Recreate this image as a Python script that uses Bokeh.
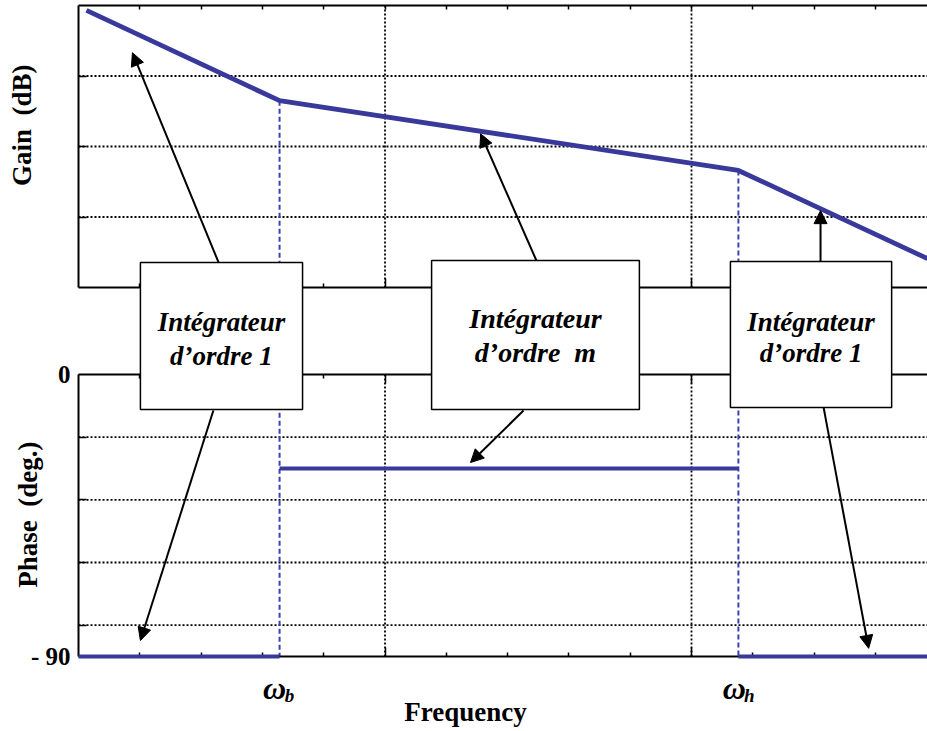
import math
from bokeh.plotting import figure
from bokeh.models import (Range1d, LinearAxis, FixedTicker, Arrow,
                          NormalHead, Label, ColumnDataSource)
from bokeh.core.properties import value
from bokeh.embed import file_html
from bokeh.resources import INLINE

# ---------------- data ----------------
omega_b = 0.656
omega_h = 2.153
gain_x = [0.026, omega_b, omega_h, 2.77]
gain_db = [3.93, 2.65, 1.66, 0.41]
phase_x0 = [0.0, omega_b, omega_h]
phase_x1 = [omega_b, omega_h, 2.77]
phase_deg = [-90, -30, -90]

x_major = [1, 2]
x_minor = [0.2, 0.4, 0.6, 0.8, 1.2, 1.4, 1.6, 1.8, 2.2, 2.4, 2.6]
gain_grid = [1, 2, 3]
gain_span = (0, 4)
phase_grid = [-80, -60, -40, -20]
phase_span = (-90, 0)
phase_ticks = [-90, 0]
phase_tick_labels = ["- 90", "0"]

box_left = [0.202, 1.152, 2.127]
box_right = [0.731, 1.830, 2.653]
box_top = [0.355, 0.383, 0.369]        # gain units
box_bottom = [-1.730, -1.730, -1.702]  # gain units
box_line1 = ["Intégrateur", "Intégrateur", "Intégrateur"]
box_line2 = ["d’ordre 1", "d’ordre\u00a0 m", "d’ordre 1"]
box_text_y1 = [-0.496, -0.440, -0.496]
box_text_y2 = [-0.965, -0.922, -0.922]
box_font = ["27px", "28px", "27px"]

gain_arrows = [  # (x_start, g_start, x_end, g_end)
    (0.457, 0.355, 0.176, 3.33),
    (1.494, 0.383, 1.312, 2.18),
    (2.421, 0.369, 2.421, 1.09),
]
phase_arrows = [  # (x_start, ph_start, x_end, ph_end)
    (0.440, -11.5, 0.202, -84.9),
    (1.452, -11.5, 1.279, -28.1),
    (2.431, -10.5, 2.578, -87.4),
]

# ---------------- layout (pixels) ----------------
W, H = 927, 729
LEFT = 78
GAIN_TOP_PX, GAIN_ZERO_PX = 5, 287
PHASE_ZERO_PX, PHASE_M90_PX = 374, 656
X_PX = 306.5

g_px = (GAIN_ZERO_PX - GAIN_TOP_PX) / 4.0
ph_px = (PHASE_M90_PX - PHASE_ZERO_PX) / 90.0
x_start = -LEFT / X_PX
x_end = (W - LEFT) / X_PX
gain_range = Range1d(-(H - GAIN_ZERO_PX) / g_px, GAIN_ZERO_PX / g_px)
phase_range = Range1d(-(H - PHASE_ZERO_PX) / ph_px, PHASE_ZERO_PX / ph_px)
m90_gain = -(PHASE_M90_PX - GAIN_ZERO_PX) / g_px

BLUE = "#38399a"
SERIF = "Liberation Serif"

p = figure(width=W, height=H, output_backend="svg", toolbar_location=None,
           x_range=Range1d(x_start, x_end), y_range=phase_range,
           x_axis_type=None, y_axis_type=None,
           min_border_left=0, min_border_right=0,
           min_border_top=0, min_border_bottom=0)
p.extra_y_ranges = {"gain": gain_range}
p.outline_line_color = None
p.background_fill_color = "white"
p.border_fill_color = "white"
p.xgrid.visible = False
p.ygrid.visible = False

# ---------------- dotted grid lines (inside each panel only) ----------------
DOT = dict(line_color="black", line_dash="2 2", line_width=1.8)
p.segment(x0=[0] * len(gain_grid), x1=[x_end] * len(gain_grid),
          y0=gain_grid, y1=gain_grid, y_range_name="gain", **DOT)
p.segment(x0=[0] * len(phase_grid), x1=[x_end] * len(phase_grid),
          y0=phase_grid, y1=phase_grid, **DOT)
p.segment(x0=x_major, x1=x_major, y0=[gain_span[0]] * 2, y1=[gain_span[1]] * 2,
          y_range_name="gain", **DOT)
p.segment(x0=x_major, x1=x_major, y0=[phase_span[0]] * 2, y1=[phase_span[1]] * 2,
          **DOT)

# ---------------- axes ----------------
def tick_axis(side, minor, tick_in, loc, yname="default", bounds="auto",
              line=True):
    ax = LinearAxis(ticker=FixedTicker(ticks=[], minor_ticks=minor),
                    y_range_name=yname, bounds=bounds, fixed_location=loc)
    ax.major_tick_in = 0
    ax.major_tick_out = 0
    ax.minor_tick_in = tick_in
    ax.minor_tick_out = 0
    ax.minor_tick_line_color = "black"
    ax.minor_tick_line_width = 1.5
    ax.major_label_standoff = 0
    ax.axis_line_width = 2
    ax.axis_line_color = "black" if line else None
    p.add_layout(ax, side)
    return ax

# phase left axis with the two labels
left_ax = LinearAxis(ticker=FixedTicker(ticks=phase_ticks, minor_ticks=phase_grid),
                     bounds=phase_span, fixed_location=0)
left_ax.major_label_overrides = {t: s for t, s in zip(phase_ticks, phase_tick_labels)}
left_ax.major_label_text_font = SERIF
left_ax.major_label_text_font_style = "bold"
left_ax.major_label_text_font_size = "25px"
left_ax.major_label_text_color = "black"
left_ax.major_label_standoff = 8
left_ax.major_tick_in = 0
left_ax.major_tick_out = 0
left_ax.minor_tick_in = 8
left_ax.minor_tick_out = 0
left_ax.minor_tick_line_width = 1.5
left_ax.minor_tick_line_color = "black"
left_ax.axis_line_width = 2
p.add_layout(left_ax, "left")

# gain panel frame
tick_axis("left", gain_grid, 8, 0, yname="gain", bounds=gain_span)
tick_axis("above", x_minor + x_major, 4, gain_span[1], yname="gain", bounds=(0, x_end))
tick_axis("below", x_minor, 4, gain_span[0], yname="gain", bounds=(0, x_end))
tick_axis("below", x_major, 9, gain_span[0], yname="gain", line=False)
# phase panel frame
tick_axis("above", x_minor, 4, phase_span[1], bounds=(0, x_end))
tick_axis("above", x_major, 9, phase_span[1], line=False)
tick_axis("below", x_minor, 4, phase_span[0], bounds=(0, x_end))
tick_axis("below", x_major, 9, phase_span[0], line=False)

# ---------------- curves ----------------
for xw in (omega_b, omega_h):
    gv = gain_db[gain_x.index(xw)]
    p.segment(x0=[xw], y0=[gv], x1=[xw], y1=[m90_gain],
              y_range_name="gain", line_color="#3f3fae", line_width=2,
              line_dash="5 3")

p.line(gain_x, gain_db, y_range_name="gain", line_color=BLUE, line_width=4.8,
       line_join="round")
p.segment(x0=phase_x0, y0=phase_deg, x1=phase_x1, y1=phase_deg,
          line_color=BLUE, line_width=4, level="overlay")

# ---------------- arrows ----------------
for xs, ys, xe, ye in gain_arrows:
    p.add_layout(Arrow(end=NormalHead(size=13, fill_color="black", line_color="black"),
                       x_start=xs, y_start=ys, x_end=xe, y_end=ye,
                       line_width=2, line_color="black", y_range_name="gain"))
for xs, ys, xe, ye in phase_arrows:
    p.add_layout(Arrow(end=NormalHead(size=13, fill_color="black", line_color="black"),
                       x_start=xs, y_start=ys, x_end=xe, y_end=ye,
                       line_width=2, line_color="black"))

# ---------------- boxes ----------------
p.quad(left=box_left, right=box_right, top=box_top, bottom=box_bottom,
       y_range_name="gain", fill_color="white", line_color="black",
       line_width=1.5, level="overlay")
cx = [(a + b) / 2 for a, b in zip(box_left, box_right)]
src = ColumnDataSource(dict(x=cx + cx, y=box_text_y1 + box_text_y2,
                            t=box_line1 + box_line2, fs=box_font + box_font))
p.text(x="x", y="y", text="t", source=src, y_range_name="gain",
       text_font=value(SERIF), text_font_style="bold italic",
       text_font_size="fs", text_align="center", text_baseline="middle",
       text_color="black", level="overlay")

# ---------------- axis titles / labels ----------------
def lab(x, y, text, size, style="bold", angle=0.0, yname="default", xoff=0):
    p.add_layout(Label(x=x, y=y, text=text, y_range_name=yname, x_offset=xoff,
                       text_font=SERIF, text_font_style=style,
                       text_font_size=size, text_align="center",
                       text_baseline="middle", angle=angle, text_color="black"))

lab(-0.183, 2.30, "Gain\u00a0 (dB)", "27px", angle=math.pi / 2, yname="gain")
lab(-0.166, -44.7, "Phase\u00a0 (deg.)", "27px", angle=math.pi / 2)
lab(omega_b, -100.0, "ω", "32px", style="bold italic", xoff=-5)
lab(omega_b, -102.6, "b", "19px", style="bold italic", xoff=10)
lab(omega_h, -100.0, "ω", "32px", style="bold italic", xoff=-4)
lab(omega_h, -102.6, "h", "19px", style="bold italic", xoff=11)
lab(1.263, -107.6, "Frequency", "27px")

open("out.html", "w").write(file_html(p, INLINE))
